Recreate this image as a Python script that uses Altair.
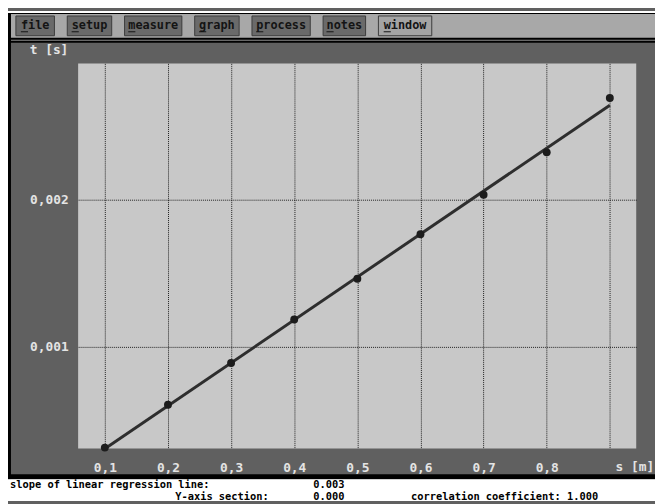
import altair as alt
import pandas as pd

# ---- data ----
s_values = [0.1, 0.2, 0.3, 0.4, 0.5, 0.6, 0.7, 0.8, 0.9]
t_values = [0.000311, 0.000603, 0.000888, 0.001185, 0.001463,
            0.001766, 0.002036, 0.002325, 0.002696]
x_ticks = [0.1, 0.2, 0.3, 0.4, 0.5, 0.6, 0.7, 0.8, 0.9]
y_ticks = [0.001, 0.002]
x_title = "s [m]"
y_title = "t [s]"
menu_labels = ["file", "setup", "measure", "graph", "process", "notes", "window"]
stat_lines = ["slope of linear regression line:", "Y-axis section:"]
stat_values = ["0.003", "0.000"]
corr_text = "correlation coefficient: 1.000"

# ---- layout (pixels relative to plot origin) ----
menu_left = [-63, -11, 47, 118, 176, 248, 304]
menu_right = [-24, 34, 105, 163, 235, 291, 358]
menu_fill = ["#6a6a6a"] * 6 + ["#a4a4a4"]

W, H = 565, 390
FONT = "DejaVu Sans Mono"
MENU_FS = 12
CW = 0.602 * MENU_FS

data = pd.DataFrame({"s": s_values, "t": t_values})
one = pd.DataFrame({"a": [0]})


def box(x1, x2, y1, y2, color):
    return alt.Chart(one).mark_rect(color=color).encode(
        x=alt.value(x1), x2=alt.value(x2), y=alt.value(y1), y2=alt.value(y2))


def label(txt, x, y, align="left", color="#e4e4e4", size=13):
    return alt.Chart(one).mark_text(
        text=txt, align=align, baseline="middle", font=FONT,
        fontWeight="bold", fontSize=size, color=color).encode(
        x=alt.value(x), y=alt.value(y))


decor = [
    box(-71, 584, -53, -51, "#ffffff"),
    box(-71, 584, -51, -21, "#000000"),
    box(-70, 584, -50, -26, "#a8a8a8"),
    box(-68, 584, -24, -23, "#8a8a8a"),
    box(-71, -68, -51, 421, "#000000"),
    box(-71, 584, 416, 421, "#000000"),
    box(-71, 584, 421, 443, "#ffffff"),
]

menu_df = pd.DataFrame({"label": menu_labels, "x1": menu_left,
                        "x2": menu_right, "fill": menu_fill})
menu_df["xc"] = (menu_df["x1"] + menu_df["x2"]) / 2
menu_df["y1"] = -48
menu_df["y2"] = -28
menu_df["yc"] = -38.5
menu_df["ux1"] = menu_df["xc"] - menu_df["label"].str.len() * CW / 2
menu_df["ux2"] = menu_df["ux1"] + CW
menu_df["uy"] = -32

buttons = alt.Chart(menu_df).mark_rect(stroke="#3c3c3c", strokeWidth=1).encode(
    x=alt.X("x1:Q", scale=None, axis=None), x2="x2:Q",
    y=alt.Y("y1:Q", scale=None, axis=None), y2="y2:Q",
    fill=alt.Fill("fill:N", scale=None, legend=None))
button_text = alt.Chart(menu_df).mark_text(
    font=FONT, fontWeight="bold", fontSize=MENU_FS, color="#141414",
    baseline="middle").encode(
    x=alt.X("xc:Q", scale=None, axis=None),
    y=alt.Y("yc:Q", scale=None, axis=None), text="label:N")
underline = alt.Chart(menu_df).mark_rule(color="#141414", strokeWidth=1).encode(
    x=alt.X("ux1:Q", scale=None, axis=None), x2="ux2:Q",
    y=alt.Y("uy:Q", scale=None, axis=None))

xs = alt.Scale(domain=[0.0577, 0.9418], nice=False, zero=False)
ys = alt.Scale(domain=[0.000304, 0.002932], nice=False, zero=False)

x_enc = alt.X("s:Q", scale=xs, axis=alt.Axis(
    values=x_ticks, title=None, grid=True, ticks=False, domain=False,
    labelExpr="datum.value > 0.85 ? '' : replace(format(datum.value, '.1f'), '.', ',')",
    labelBaseline="middle", labelPadding=19, labelFlush=False))
y_enc = alt.Y("t:Q", scale=ys, axis=alt.Axis(
    values=y_ticks, title=None, grid=True, ticks=False, domain=False,
    labelExpr="replace(format(datum.value, '.3f'), '.', ',')",
    labelPadding=10))

base = alt.Chart(data)
reg = base.transform_regression("s", "t", method="linear").mark_line(
    color="#2e2e2e", strokeWidth=3).encode(x=x_enc, y=y_enc)
pts = base.mark_circle(size=64, color="#1c1c1c", opacity=1).encode(x=x_enc, y=y_enc)

BFS = 10.5
Y1, Y2 = 427, 439
texts = [
    label(y_title, -49, -13),
    label(x_title, 544, 409),
    label(stat_lines[0], -69, Y1, color="#000000", size=BFS),
    label(stat_lines[1], 193, Y2, align="right", color="#000000", size=BFS),
    label(stat_values[0], 238, Y1, color="#000000", size=BFS),
    label(stat_values[1], 238, Y2, color="#000000", size=BFS),
    label(corr_text, 337, Y2, color="#000000", size=BFS),
]

chart = alt.layer(*decor, buttons, button_text, underline, reg, pts, *texts).properties(
    width=W, height=H,
    autosize=alt.AutoSizeParams(type="none"),
    padding={"left": 71, "top": 53, "right": 19, "bottom": 53},
    background="#606060",
).configure_view(fill="#c8c8c8", stroke=None).configure_axis(
    gridColor="#000000", gridDash=[1, 1], gridWidth=1, gridOpacity=0.85,
    labelFont=FONT, labelFontWeight="bold", labelFontSize=13,
    labelColor="#e4e4e4")

chart.save("out.html", embed_options={"renderer": "svg", "actions": False})
